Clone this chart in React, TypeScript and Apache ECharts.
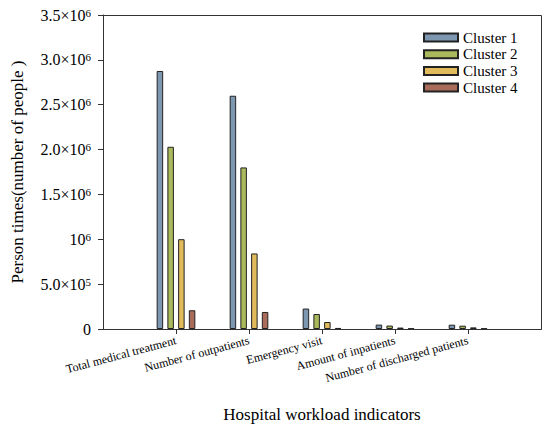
import { useEffect, useRef } from "react";
import * as echarts from "echarts";

const categories = [
  "",
  "Total medical treatment",
  "Number of outpatients",
  "Emergency visit",
  "Amount of inpatients",
  "Number of discharged patients",
  "",
];

const seriesNames = ["Cluster 1", "Cluster 2", "Cluster 3", "Cluster 4"];
const seriesColors = ["#7d97b1", "#a9b95b", "#e1ba5c", "#a96c5b"];

const cluster1 = [null, 2876000, 2600000, 228000, 49000, 48000, null];
const cluster2 = [null, 2031000, 1801000, 167000, 38000, 37000, null];
const cluster3 = [null, 1001000, 842000, 78000, 16000, 18000, null];
const cluster4 = [null, 209000, 190000, 12000, 5000, 6000, null];

const yTickLabels: Record<number, string> = {
  0: "0",
  500000: "5.0×10{sup|5}",
  1000000: "10{sup|6}",
  1500000: "1.5×10{sup|6}",
  2000000: "2.0×10{sup|6}",
  2500000: "2.5×10{sup|6}",
  3000000: "3.0×10{sup|6}",
  3500000: "3.5×10{sup|6}",
};

const FONT = "Liberation Serif";
const LINE = "#333";

// plot frame (grid box)
const GRID = { left: 103, top: 15, right: 9, bottom: 96 };
const W = 550;
const H = 425;

function App() {
  const chartRef = useRef<HTMLDivElement>(null);

  useEffect(() => {
    document.body.style.margin = "0";
    const chart = echarts.init(chartRef.current, null, { renderer: "svg" });
    const allData = [cluster1, cluster2, cluster3, cluster4];

    const option = {
      animation: false,
      textStyle: { fontFamily: FONT, color: "#000" },
      grid: { ...GRID, outerBoundsMode: "none" },
      graphic: [
        {
          type: "rect",
          silent: true,
          z: 10,
          shape: {
            x: GRID.left + 0.5,
            y: GRID.top + 0.5,
            width: W - GRID.left - GRID.right,
            height: H - GRID.top - GRID.bottom,
          },
          style: { fill: "none", stroke: LINE, lineWidth: 1 },
        },
      ],
      legend: {
        orient: "vertical",
        left: 423,
        top: 30,
        padding: 0,
        itemWidth: 34,
        itemHeight: 8,
        itemGap: 1.7,
        icon: "rect",
        data: seriesNames,
        textStyle: { fontFamily: FONT, fontSize: 15, color: "#000" },
      },
      xAxis: {
        type: "category",
        data: categories,
        boundaryGap: false,
        name: "Hospital workload indicators",
        nameLocation: "middle",
        nameGap: 77,
        nameTextStyle: { fontFamily: FONT, fontSize: 17, color: "#000" },
        axisLine: { onZero: false, lineStyle: { color: LINE, width: 1 } },
        axisTick: {
          length: 5,
          lineStyle: { color: LINE, width: 1 },
          interval: (i: number) => i > 0 && i < categories.length - 1,
        },
        axisLabel: {
          rotate: 15,
          fontSize: 12,
          fontFamily: FONT,
          color: "#000",
          margin: 11,
          interval: 0,
        },
        splitLine: { show: false },
      },
      yAxis: {
        type: "value",
        min: 0,
        max: 3500000,
        interval: 500000,
        name: "Person times(number of people )",
        nameLocation: "middle",
        nameGap: 77,
        nameTextStyle: { fontFamily: FONT, fontSize: 17, color: "#000" },
        axisLine: { show: true, onZero: false, lineStyle: { color: LINE, width: 1 } },
        axisTick: { show: true, length: 5, lineStyle: { color: LINE, width: 1 } },
        splitLine: { show: false },
        axisLabel: {
          fontFamily: FONT,
          fontSize: 16,
          color: "#000",
          margin: 12,
          formatter: (v: number) => yTickLabels[v] ?? String(v),
          rich: {
            sup: { fontSize: 11, fontFamily: FONT, color: "#000", verticalAlign: "top", lineHeight: 10 },
          },
        },
      },
      series: seriesNames.map((name, i) => ({
        name,
        type: "bar",
        data: allData[i],
        barWidth: 6.5,
        barGap: "65%",
        itemStyle: {
          color: seriesColors[i],
          borderColor: "#222",
          borderWidth: 1,
        },
      })),
    };

    chart.setOption(option);

    return () => {
      chart.dispose();
    };
  }, []);

  return <div ref={chartRef} style={{ width: W, height: H }} />;
}

export default App;
